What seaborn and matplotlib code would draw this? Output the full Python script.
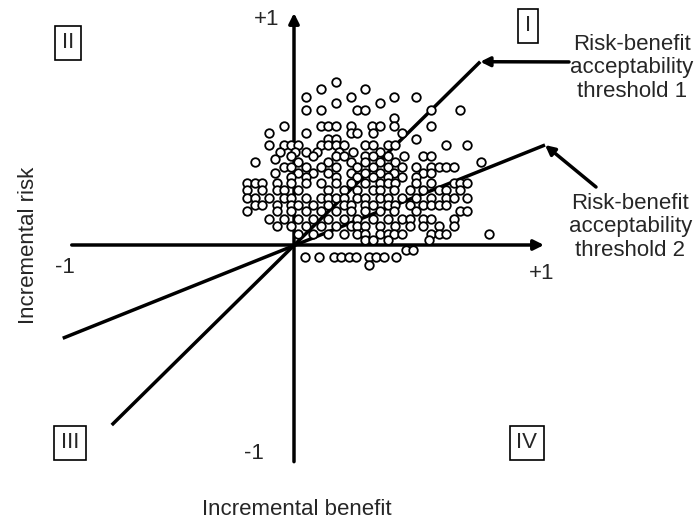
import matplotlib
matplotlib.use("Agg")
import matplotlib.pyplot as plt
import seaborn as sns
import pandas as pd

# ---- data ----
risk_rows = [0.704, 0.671, 0.639, 0.610, 0.582, 0.546, 0.514, 0.481, 0.455, 0.430,
             0.400, 0.384, 0.369, 0.356, 0.335, 0.309, 0.295, 0.266, 0.237, 0.204,
             0.172, 0.146, 0.110, 0.082, 0.048, 0.023, -0.020, -0.052, -0.086]
benefit_rows = [
    [0.168],
    [0.107, 0.286],
    [0.050, 0.227, 0.400, 0.489],
    [0.168, 0.345],
    [0.050, 0.107, 0.254, 0.286, 0.550, 0.664],
    [0.400],
    [-0.039, 0.107, 0.138, 0.168, 0.227, 0.313, 0.345, 0.400, 0.550],
    [-0.098, 0.050, 0.227, 0.254, 0.318, 0.432],
    [0.138, 0.168, 0.489],
    [-0.098, -0.039, -0.011, 0.018, 0.107, 0.138, 0.168, 0.200, 0.286, 0.318, 0.375, 0.405, 0.609, 0.693],
    [-0.054, 0.004, 0.050, 0.093, 0.182, 0.236, 0.345],
    [-0.011, 0.075, 0.168, 0.200, 0.286, 0.318, 0.375, 0.441, 0.518, 0.550],
    [-0.077],
    [-0.157, 0.018, 0.138, 0.227, 0.286, 0.345, 0.405, 0.750],
    [-0.039, -0.011, 0.050, 0.107, 0.168, 0.254, 0.318, 0.375, 0.432, 0.489, 0.550, 0.580, 0.609, 0.639],
    [-0.077, 0.018, 0.075, 0.138, 0.227, 0.286, 0.345, 0.400, 0.518, 0.550],
    [-0.011, 0.050, 0.168, 0.254, 0.318, 0.375, 0.432, 0.489],
    [-0.188, -0.157, -0.127, -0.068, -0.011, 0.050, 0.107, 0.168, 0.227, 0.286, 0.345, 0.375, 0.405, 0.489, 0.550, 0.639, 0.664, 0.693],
    [-0.188, -0.127, -0.068, -0.039, 0.018, 0.138, 0.200, 0.254, 0.318, 0.345, 0.400, 0.464, 0.518, 0.580, 0.609, 0.664],
    [-0.188, -0.157, -0.098, -0.039, -0.011, 0.050, 0.107, 0.138, 0.168, 0.200, 0.254, 0.286, 0.345, 0.375, 0.432, 0.489, 0.550, 0.609, 0.639, 0.693],
    [-0.157, -0.127, -0.068, -0.011, 0.018, 0.075, 0.138, 0.200, 0.227, 0.286, 0.318, 0.375, 0.405, 0.464, 0.518, 0.550, 0.580, 0.609],
    [-0.188, -0.068, -0.011, 0.050, 0.107, 0.168, 0.227, 0.286, 0.345, 0.400, 0.489, 0.664, 0.693],
    [-0.098, -0.039, 0.018, 0.075, 0.138, 0.200, 0.254, 0.318, 0.375, 0.432, 0.464, 0.518, 0.550, 0.639],
    [-0.068, -0.011, 0.050, 0.107, 0.168, 0.227, 0.254, 0.286, 0.345, 0.405, 0.464, 0.518, 0.580, 0.639],
    [0.018, 0.075, 0.138, 0.200, 0.254, 0.286, 0.345, 0.375, 0.400, 0.432, 0.550, 0.580, 0.609, 0.780],
    [0.286, 0.318, 0.375, 0.540],
    [0.448, 0.476],
    [0.044, 0.100, 0.160, 0.190, 0.220, 0.250, 0.300, 0.330, 0.360, 0.410],
    [0.300],
]

threshold1_x = [-0.729, 0.745]
threshold1_y = [-0.776, 0.790]
threshold2_x = [-0.925, 1.004]
threshold2_y = [-0.402, 0.431]

quadrant_labels = ["I", "II", "III", "IV"]
axis_tick_labels = ["+1", "-1", "+1", "-1"]
threshold_labels = ["Risk-benefit\nacceptability\nthreshold 1",
                    "Risk-benefit\nacceptability\nthreshold 2"]
x_label = "Incremental benefit"
y_label = "Incremental risk"

# ---- build table ----
xs, ys = [], []
for r, row in zip(risk_rows, benefit_rows):
    for b in row:
        xs.append(b)
        ys.append(r)
df = pd.DataFrame({"benefit": xs, "risk": ys})

sns.set_theme(style="white")
plt.rcParams["font.family"] = ["Liberation Sans", "DejaVu Sans"]

fig = plt.figure(figsize=(6.97, 5.27), dpi=100)
ax = fig.add_axes([0, 0, 1, 1])
ax.set_xlim(-1.176, 1.612)
ax.set_ylim(-1.2155, 1.056)
ax.axis("off")

FS = 16
LW = 2.5

# axes with arrows
ax.annotate("", xy=(1.0, 0), xytext=(-0.889, 0),
            arrowprops=dict(arrowstyle="-|>", lw=LW, color="black", mutation_scale=15,
                            shrinkA=0, shrinkB=0))
ax.annotate("", xy=(0, 1.0), xytext=(0, -0.934),
            arrowprops=dict(arrowstyle="-|>", lw=LW, color="black", mutation_scale=15,
                            shrinkA=0, shrinkB=0))

# threshold lines
ax.plot(threshold1_x, threshold1_y, color="black", lw=LW, solid_capstyle="butt")
ax.plot(threshold2_x, threshold2_y, color="black", lw=LW, solid_capstyle="butt")

# scatter
sns.scatterplot(data=df, x="benefit", y="risk", ax=ax, marker="o", s=38,
                facecolor="white", edgecolor="black", linewidth=1.3, zorder=3)

# threshold annotations with arrows
ax.annotate("", xy=(threshold1_x[1], threshold1_y[1]), xytext=(1.10, 0.789),
            arrowprops=dict(arrowstyle="-|>", lw=LW, color="black", mutation_scale=14,
                            shrinkA=0, shrinkB=0))
ax.annotate("", xy=(threshold2_x[1], threshold2_y[1]), xytext=(1.208, 0.25),
            arrowprops=dict(arrowstyle="-|>", lw=LW, color="black", mutation_scale=14,
                            shrinkA=0, shrinkB=0))
ax.text(1.352, 0.763, threshold_labels[0], ha="center", va="center",
        multialignment="center", fontsize=FS, linespacing=1.15)
ax.text(1.345, 0.078, threshold_labels[1], ha="center", va="center",
        multialignment="center", fontsize=FS, linespacing=1.15)

# axis tick labels
ax.text(-0.108, 0.970, axis_tick_labels[0], ha="center", va="center", fontsize=FS)
ax.text(-0.916, -0.095, axis_tick_labels[1], ha="center", va="center", fontsize=FS)
ax.text(0.992, -0.121, axis_tick_labels[2], ha="center", va="center", fontsize=FS)
ax.text(-0.160, -0.897, axis_tick_labels[3], ha="center", va="center", fontsize=FS)

# quadrant labels
box = dict(boxstyle="square,pad=0.3", fc="white", ec="black", lw=1.2)
ax.text(0.936, 0.944, quadrant_labels[0], ha="center", va="center", fontsize=FS, bbox=box)
ax.text(-0.904, 0.871, quadrant_labels[1], ha="center", va="center", fontsize=FS, bbox=box)
ax.text(-0.896, -0.853, quadrant_labels[2], ha="center", va="center", fontsize=FS, bbox=box)
ax.text(0.932, -0.853, quadrant_labels[3], ha="center", va="center", fontsize=FS, bbox=box)

# axis titles
ax.text(0.012, -1.142, x_label, ha="center", va="center", fontsize=FS)
ax.text(-1.06, 0.0, y_label, ha="center", va="center", rotation=90, fontsize=FS)

fig.savefig("out.png", dpi=100)
